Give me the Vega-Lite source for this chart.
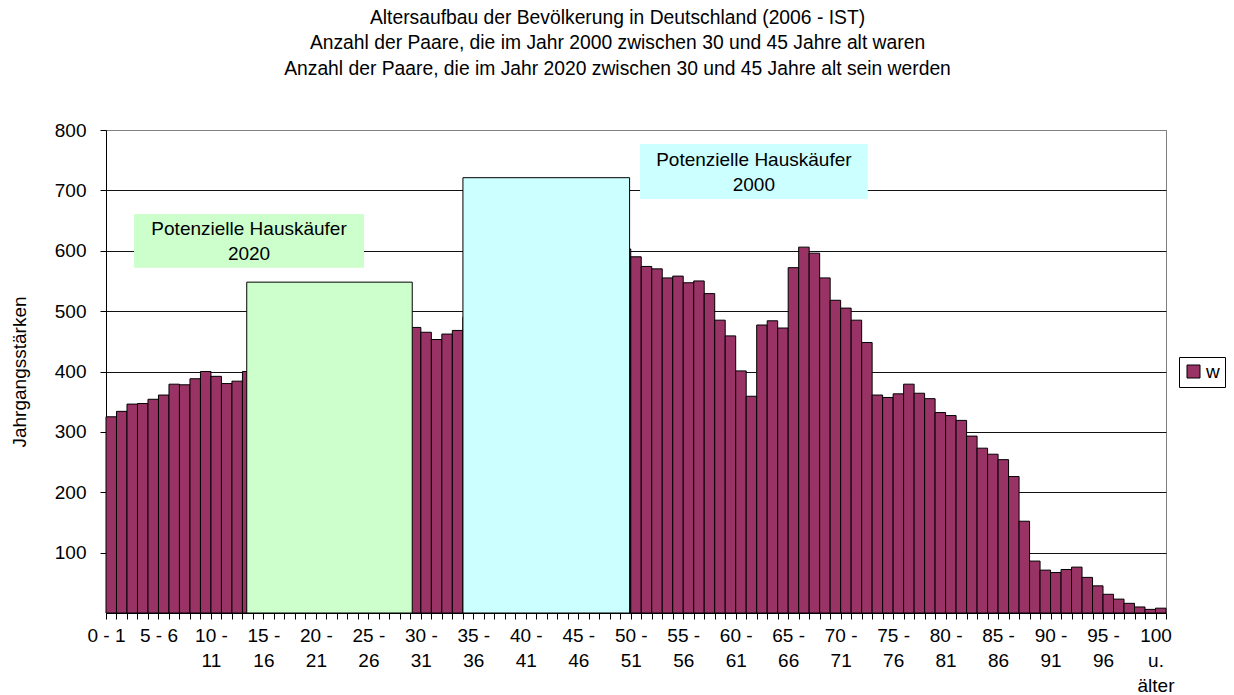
{
  "$schema": "https://vega.github.io/schema/vega-lite/v6.json",
  "autosize": {"type": "none"},
  "width": 1060,
  "height": 483,
  "padding": {"left": 106, "top": 130, "right": 68, "bottom": 82},
  "background": "white",
  "config": {
    "font": "Liberation Sans",
    "view": {"stroke": "#808080", "strokeWidth": 1}
  },
  "title": {
    "text": [
      "Altersaufbau der Bevölkerung in Deutschland (2006 - IST)",
      "Anzahl der Paare, die im Jahr 2000 zwischen 30 und 45 Jahre alt  waren",
      "Anzahl der Paare, die im Jahr 2020 zwischen 30 und 45 Jahre alt sein werden"
    ],
    "fontSize": 19.3,
    "fontWeight": "normal",
    "color": "black",
    "lineHeight": 25.5,
    "anchor": "middle",
    "frame": "group",
    "baseline": "bottom",
    "offset": 23,
    "dx": -18.5
  },
  "datasets": {
    "pop": [
      {"a0": 0, "a1": 1, "w": 325, "g": "w"},
      {"a0": 1, "a1": 2, "w": 334, "g": "w"},
      {"a0": 2, "a1": 3, "w": 346, "g": "w"},
      {"a0": 3, "a1": 4, "w": 347, "g": "w"},
      {"a0": 4, "a1": 5, "w": 354, "g": "w"},
      {"a0": 5, "a1": 6, "w": 361, "g": "w"},
      {"a0": 6, "a1": 7, "w": 379, "g": "w"},
      {"a0": 7, "a1": 8, "w": 378, "g": "w"},
      {"a0": 8, "a1": 9, "w": 388, "g": "w"},
      {"a0": 9, "a1": 10, "w": 400, "g": "w"},
      {"a0": 10, "a1": 11, "w": 392, "g": "w"},
      {"a0": 11, "a1": 12, "w": 380, "g": "w"},
      {"a0": 12, "a1": 13, "w": 384, "g": "w"},
      {"a0": 13, "a1": 14, "w": 400, "g": "w"},
      {"a0": 14, "a1": 15, "w": 405, "g": "w"},
      {"a0": 15, "a1": 16, "w": 420, "g": "w"},
      {"a0": 16, "a1": 17, "w": 460, "g": "w"},
      {"a0": 17, "a1": 18, "w": 475, "g": "w"},
      {"a0": 18, "a1": 19, "w": 480, "g": "w"},
      {"a0": 19, "a1": 20, "w": 490, "g": "w"},
      {"a0": 20, "a1": 21, "w": 495, "g": "w"},
      {"a0": 21, "a1": 22, "w": 490, "g": "w"},
      {"a0": 22, "a1": 23, "w": 495, "g": "w"},
      {"a0": 23, "a1": 24, "w": 500, "g": "w"},
      {"a0": 24, "a1": 25, "w": 490, "g": "w"},
      {"a0": 25, "a1": 26, "w": 495, "g": "w"},
      {"a0": 26, "a1": 27, "w": 490, "g": "w"},
      {"a0": 27, "a1": 28, "w": 480, "g": "w"},
      {"a0": 28, "a1": 29, "w": 475, "g": "w"},
      {"a0": 29, "a1": 30, "w": 473, "g": "w"},
      {"a0": 30, "a1": 31, "w": 465, "g": "w"},
      {"a0": 31, "a1": 32, "w": 453, "g": "w"},
      {"a0": 32, "a1": 33, "w": 462, "g": "w"},
      {"a0": 33, "a1": 34, "w": 468, "g": "w"},
      {"a0": 34, "a1": 35, "w": 490, "g": "w"},
      {"a0": 35, "a1": 36, "w": 535, "g": "w"},
      {"a0": 36, "a1": 37, "w": 580, "g": "w"},
      {"a0": 37, "a1": 38, "w": 625, "g": "w"},
      {"a0": 38, "a1": 39, "w": 655, "g": "w"},
      {"a0": 39, "a1": 40, "w": 680, "g": "w"},
      {"a0": 40, "a1": 41, "w": 700, "g": "w"},
      {"a0": 41, "a1": 42, "w": 705, "g": "w"},
      {"a0": 42, "a1": 43, "w": 700, "g": "w"},
      {"a0": 43, "a1": 44, "w": 690, "g": "w"},
      {"a0": 44, "a1": 45, "w": 675, "g": "w"},
      {"a0": 45, "a1": 46, "w": 660, "g": "w"},
      {"a0": 46, "a1": 47, "w": 645, "g": "w"},
      {"a0": 47, "a1": 48, "w": 630, "g": "w"},
      {"a0": 48, "a1": 49, "w": 615, "g": "w"},
      {"a0": 49, "a1": 50, "w": 603, "g": "w"},
      {"a0": 50, "a1": 51, "w": 590, "g": "w"},
      {"a0": 51, "a1": 52, "w": 574, "g": "w"},
      {"a0": 52, "a1": 53, "w": 570, "g": "w"},
      {"a0": 53, "a1": 54, "w": 555, "g": "w"},
      {"a0": 54, "a1": 55, "w": 558, "g": "w"},
      {"a0": 55, "a1": 56, "w": 547, "g": "w"},
      {"a0": 56, "a1": 57, "w": 550, "g": "w"},
      {"a0": 57, "a1": 58, "w": 529, "g": "w"},
      {"a0": 58, "a1": 59, "w": 485, "g": "w"},
      {"a0": 59, "a1": 60, "w": 459, "g": "w"},
      {"a0": 60, "a1": 61, "w": 401, "g": "w"},
      {"a0": 61, "a1": 62, "w": 359, "g": "w"},
      {"a0": 62, "a1": 63, "w": 477, "g": "w"},
      {"a0": 63, "a1": 64, "w": 484, "g": "w"},
      {"a0": 64, "a1": 65, "w": 472, "g": "w"},
      {"a0": 65, "a1": 66, "w": 572, "g": "w"},
      {"a0": 66, "a1": 67, "w": 606, "g": "w"},
      {"a0": 67, "a1": 68, "w": 596, "g": "w"},
      {"a0": 68, "a1": 69, "w": 555, "g": "w"},
      {"a0": 69, "a1": 70, "w": 518, "g": "w"},
      {"a0": 70, "a1": 71, "w": 505, "g": "w"},
      {"a0": 71, "a1": 72, "w": 485, "g": "w"},
      {"a0": 72, "a1": 73, "w": 448, "g": "w"},
      {"a0": 73, "a1": 74, "w": 361, "g": "w"},
      {"a0": 74, "a1": 75, "w": 357, "g": "w"},
      {"a0": 75, "a1": 76, "w": 363, "g": "w"},
      {"a0": 76, "a1": 77, "w": 379, "g": "w"},
      {"a0": 77, "a1": 78, "w": 364, "g": "w"},
      {"a0": 78, "a1": 79, "w": 355, "g": "w"},
      {"a0": 79, "a1": 80, "w": 332, "g": "w"},
      {"a0": 80, "a1": 81, "w": 327, "g": "w"},
      {"a0": 81, "a1": 82, "w": 319, "g": "w"},
      {"a0": 82, "a1": 83, "w": 293, "g": "w"},
      {"a0": 83, "a1": 84, "w": 273, "g": "w"},
      {"a0": 84, "a1": 85, "w": 263, "g": "w"},
      {"a0": 85, "a1": 86, "w": 254, "g": "w"},
      {"a0": 86, "a1": 87, "w": 226, "g": "w"},
      {"a0": 87, "a1": 88, "w": 152, "g": "w"},
      {"a0": 88, "a1": 89, "w": 86, "g": "w"},
      {"a0": 89, "a1": 90, "w": 71, "g": "w"},
      {"a0": 90, "a1": 91, "w": 67, "g": "w"},
      {"a0": 91, "a1": 92, "w": 72, "g": "w"},
      {"a0": 92, "a1": 93, "w": 76, "g": "w"},
      {"a0": 93, "a1": 94, "w": 59, "g": "w"},
      {"a0": 94, "a1": 95, "w": 45, "g": "w"},
      {"a0": 95, "a1": 96, "w": 31, "g": "w"},
      {"a0": 96, "a1": 97, "w": 23, "g": "w"},
      {"a0": 97, "a1": 98, "w": 16, "g": "w"},
      {"a0": 98, "a1": 99, "w": 10, "g": "w"},
      {"a0": 99, "a1": 100, "w": 6, "g": "w"},
      {"a0": 100, "a1": 101, "w": 8, "g": "w"}
    ]
  },
  "encoding": {
    "x": {
      "field": "a0",
      "type": "quantitative",
      "scale": {"domain": [0, 101], "nice": false, "zero": false},
      "axis": {
        "title": null,
        "orient": "bottom",
        "values": [0,1,2,3,4,5,6,7,8,9,10,11,12,13,14,15,16,17,18,19,20,21,22,23,24,25,26,27,28,29,30,31,32,33,34,35,36,37,38,39,40,41,42,43,44,45,46,47,48,49,50,51,52,53,54,55,56,57,58,59,60,61,62,63,64,65,66,67,68,69,70,71,72,73,74,75,76,77,78,79,80,81,82,83,84,85,86,87,88,89,90,91,92,93,94,95,96,97,98,99,100,101],
        "tickCount": 500,
        "labelExpr": "datum.value % 5 == 0 && datum.value <= 100 ? (datum.value < 10 ? datum.value + ' - ' + (datum.value + 1) : (datum.value == 100 ? ['100', 'u.', 'älter'] : [datum.value + ' -', '' + (datum.value + 1)])) : ''",
        "labelDx": 5.25,
        "labelFontSize": 19,
        "labelLineHeight": 25,
        "labelColor": "black",
        "labelPadding": 7,
        "labelOverlap": false,
        "labelFlush": false,
        "labelBound": false,
        "ticks": true,
        "tickSize": 6,
        "tickWidth": 1,
        "tickColor": "black",
        "domainColor": "black",
        "grid": false
      }
    },
    "x2": {"field": "a1"}
  },
  "layer": [
    {
      "data": {"name": "pop"},
      "mark": {"type": "rect", "stroke": "black", "strokeWidth": 1},
      "encoding": {
        "y": {
          "field": "w",
          "type": "quantitative",
          "scale": {"domain": [0, 800], "nice": false},
          "axis": {
            "title": "Jahrgangsstärken",
            "titleFontSize": 19,
            "titleFontWeight": "normal",
            "titleColor": "black",
            "titlePadding": 25,
            "values": [100, 200, 300, 400, 500, 600, 700, 800],
            "labelFontSize": 19,
            "labelColor": "black",
            "labelPadding": 14,
            "tickSize": 6,
            "tickColor": "black",
            "domainColor": "black",
            "grid": true,
            "gridColor": {"condition": {"test": "datum.value == 800", "value": "#808080"}, "value": "#111111"},
            "gridOpacity": 1
          }
        },
        "y2": {"datum": 0},
        "color": {
          "field": "g",
          "type": "nominal",
          "scale": {"domain": ["w"], "range": ["#993366"]},
          "legend": {
            "title": null,
            "orient": "none",
            "legendX": 1073,
            "legendY": 227,
            "strokeColor": "black",
            "fillColor": "white",
            "padding": 5,
            "symbolType": "square",
            "symbolSize": 169,
            "symbolStrokeColor": "black",
            "symbolStrokeWidth": 1,
            "symbolOpacity": 1,
            "labelFontSize": 19,
            "labelColor": "black",
            "labelOffset": 3
          }
        }
      }
    },
    {
      "data": {"values": [{"a0": 13.41, "a1": 29.18, "top": 548}]},
      "mark": {"type": "rect", "fill": "#CCFFCC", "stroke": "black", "strokeWidth": 1},
      "encoding": {
        "y": {"field": "top", "type": "quantitative"},
        "y2": {"datum": 0}
      }
    },
    {
      "data": {"values": [{"a0": 34.01, "a1": 49.89, "top": 721}]},
      "mark": {"type": "rect", "fill": "#CCFFFF", "stroke": "black", "strokeWidth": 1},
      "encoding": {
        "y": {"field": "top", "type": "quantitative"},
        "y2": {"datum": 0}
      }
    },
    {
      "data": {"values": [{"a0": 2.67, "a1": 24.58, "y0": 571.9, "y1": 660.9}]},
      "mark": {"type": "rect", "fill": "#CCFFCC"},
      "encoding": {
        "y": {"field": "y0", "type": "quantitative"},
        "y2": {"field": "y1"}
      }
    },
    {
      "data": {"values": [{"a0": 50.88, "a1": 72.58, "y0": 685.7, "y1": 776.8}]},
      "mark": {"type": "rect", "fill": "#CCFFFF"},
      "encoding": {
        "y": {"field": "y0", "type": "quantitative"},
        "y2": {"field": "y1"}
      }
    },
    {
      "data": {"values": [
        {"a0": 13.63, "a1": 13.63, "yc": 635.2, "t": "Potenzielle Hauskäufer\n2020"},
        {"a0": 61.73, "a1": 61.73, "yc": 751.1, "t": "Potenzielle Hauskäufer\n2000"}
      ]},
      "mark": {"type": "text", "fontSize": 19, "lineHeight": 25, "lineBreak": "\n", "align": "center", "baseline": "middle", "color": "black"},
      "encoding": {
        "y": {"field": "yc", "type": "quantitative"},
        "text": {"field": "t"}
      }
    }
  ]
}
